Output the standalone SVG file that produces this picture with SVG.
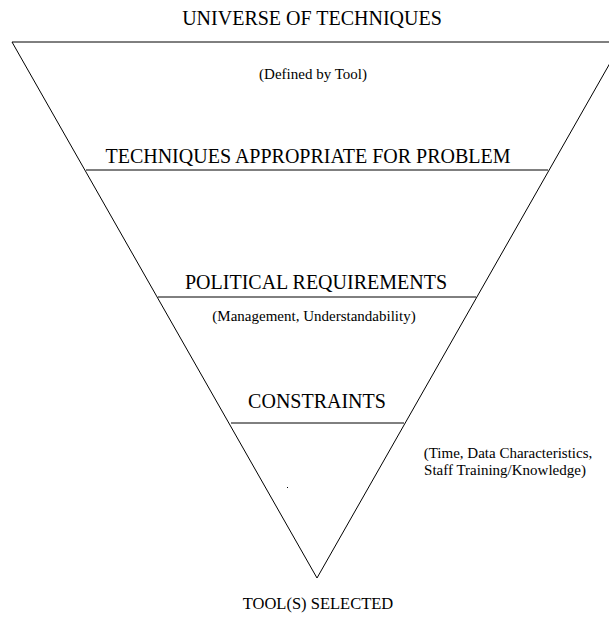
<svg xmlns="http://www.w3.org/2000/svg" width="609" height="617" viewBox="0 0 609 617">
<style>
text{font-family:"Liberation Serif","Times New Roman",serif;fill:#000;text-anchor:middle}
.big{font-size:20px}
.end{font-size:16.5px}
.small{font-size:15px}
.ln{stroke:#000;stroke-width:1;fill:none}
</style>
<rect width="609" height="617" fill="#fff"/>
<g id="connectors">
<path class="ln" d="M 12 42 L 612 42"/>
<path class="ln" d="M 12 42 L 317 578 L 622 42"/>
<path class="ln" d="M 86 170 L 548 170"/>
<path class="ln" d="M 158 297 L 476 297"/>
<path class="ln" d="M 231 423 L 404 423"/>
</g>
<g id="universe"><text class="big" x="312" y="25">UNIVERSE OF TECHNIQUES</text><text class="small" x="313" y="79">(Defined by Tool)</text></g>
<g id="appropriate"><text class="big" x="308" y="163">TECHNIQUES APPROPRIATE FOR PROBLEM</text></g>
<g id="political"><text class="big" x="316" y="289">POLITICAL REQUIREMENTS</text><text class="small" x="314" y="321">(Management, Understandability)</text></g>
<g id="constraints"><text class="big" x="317" y="408">CONSTRAINTS</text><text class="small" x="508" y="458">(Time, Data Characteristics,</text><text class="small" x="505" y="475">Staff Training/Knowledge)</text></g>
<rect x="287" y="487" width="1" height="1" fill="#000"/>
<g id="selected"><text class="end" x="318" y="609">TOOL(S) SELECTED</text></g>
</svg>
